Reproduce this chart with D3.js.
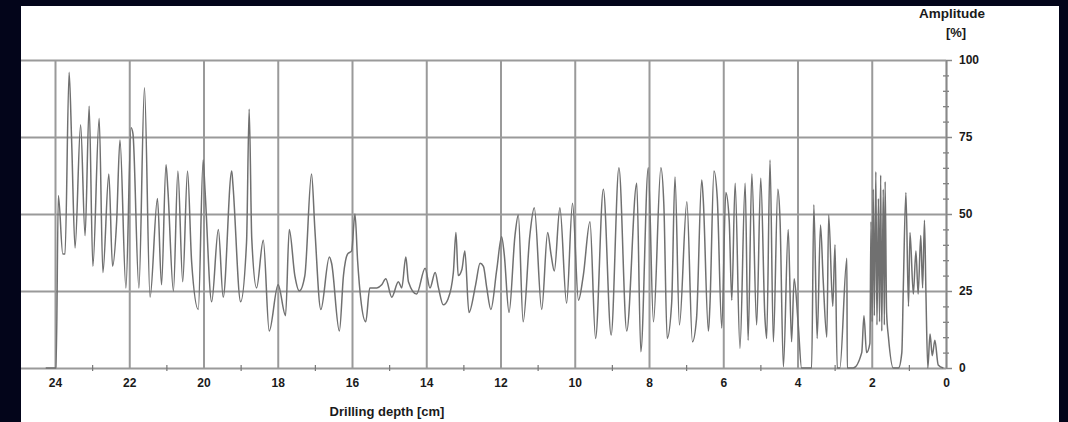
<!DOCTYPE html>
<html>
<head>
<meta charset="utf-8">
<script src="https://cdn.jsdelivr.net/npm/d3@7"></script>
<style>
  html, body { margin: 0; padding: 0; background: #03051a; }
  svg { display: block; }
  .axis text { font-family: "Liberation Sans", Arial, sans-serif; font-weight: bold; fill: #1a1a1a; }
  .grid line { stroke: #9a9a9a; stroke-width: 2; }
  .grid path { display: none; }
</style>
</head>
<body>
<svg id="chart"></svg>
<script>
let w = 1068;
let h = 422;
let chart1;
let xScale, yScale;

// drilling depth [cm]
let depth = [
  24.25, 23.97, 23.91, 23.79, 23.73, 23.62, 23.55, 23.46, 23.31, 23.19,
  23.08, 22.98, 22.81, 22.71, 22.55, 22.45, 22.34, 22.25, 22.09, 21.95,
  21.90, 21.74, 21.59, 21.44, 21.24, 21.13, 21.01, 20.96, 20.81, 20.69,
  20.56, 20.43, 20.32, 20.14, 20.01, 19.96, 19.78, 19.60, 19.47, 19.24,
  19.21, 19.00, 18.84, 18.77, 18.70, 18.57, 18.39, 18.23, 17.99, 17.79,
  17.69, 17.54, 17.42, 17.27, 17.09, 17.00, 16.84, 16.61, 16.55, 16.34,
  16.23, 16.12, 16.01, 15.92, 15.85, 15.76, 15.63, 15.52, 15.33, 15.20,
  15.09, 14.93, 14.75, 14.66, 14.55, 14.48, 14.26, 14.03, 13.90, 13.76,
  13.67, 13.54, 13.41, 13.27, 13.20, 13.14, 13.04, 12.96, 12.85, 12.67,
  12.55, 12.46, 12.37, 12.26, 12.10, 11.97, 11.90, 11.77, 11.61, 11.52,
  11.39, 11.21, 11.09, 10.89, 10.73, 10.64, 10.55, 10.40, 10.22, 10.06,
  9.90, 9.77, 9.59, 9.44, 9.23, 9.02, 8.81, 8.60, 8.33, 8.22,
  8.02, 7.88, 7.68, 7.60, 7.51, 7.39, 7.30, 7.18, 6.98, 6.83,
  6.72, 6.58, 6.54, 6.40, 6.36, 6.25, 6.16, 6.04, 5.93, 5.84,
  5.77, 5.68, 5.55, 5.41, 5.33, 5.23, 5.10, 4.99, 4.88, 4.83,
  4.74, 4.65, 4.53, 4.47, 4.38, 4.25, 4.16, 4.09, 3.98, 3.89,
  3.62, 3.56, 3.47, 3.38, 3.31, 3.21, 3.16, 3.05, 2.99, 2.93,
  2.86, 2.67, 2.66, 2.50, 2.27, 2.21, 2.14, 2.05, 2.02, 1.99,
  1.96, 1.93, 1.89, 1.86, 1.82, 1.79, 1.76, 1.73, 1.69, 1.66,
  1.64, 1.60, 1.55, 1.42, 1.28, 1.19, 1.15, 1.08,
  1.01, 0.97, 0.88, 0.81, 0.75, 0.68, 0.63, 0.58, 0.54, 0.49,
  0.43, 0.37, 0.30, 0.21, 0.07
];

// amplitude [%]
let amplitude = [
  0, 0, 56, 37, 37, 96, 73, 39, 79, 43,
  85, 33, 81, 31, 63, 33, 47.5, 74, 26, 78,
  76, 26, 91, 23, 55, 27, 66, 58, 25, 64,
  28, 64, 34.5, 19, 67.5, 58, 21.5, 45, 23, 64,
  60, 21.5, 41, 84, 42, 26, 41.5, 12, 27, 17,
  45, 30, 25, 30, 63, 45, 19, 36, 34, 12,
  30, 37, 38, 50, 35, 22, 15, 26, 26, 27,
  29, 23, 28, 26, 36, 28, 24, 32.4, 26, 31,
  26, 20.5, 22.5, 31, 44, 30, 32, 38, 18, 27,
  34, 33, 26, 19, 32, 42.6, 37, 18, 43, 49.7,
  15, 43, 52, 19, 44, 37, 31.5, 52, 21, 53.5,
  22, 30, 47.5, 9.6, 58, 10.7, 65, 12, 60, 5.3,
  65, 15, 65, 53, 9.6, 21, 62, 14, 54, 8.5,
  16, 61, 55, 12, 20, 64, 55, 13, 57, 48,
  22, 60, 6.4, 60, 9, 63, 14, 61.6, 17, 9.6,
  67.5, 8.5, 58, 48, 0.4, 45, 8.5, 29, 14, 0,
  0, 53, 9.6, 46.4, 29, 10, 49.7, 20, 40, 0,
  0, 35.6, 0, 0, 5, 17, 5, 8, 47.5, 15,
  58, 17, 63.7, 14, 55, 15, 62.6, 12, 58, 14,
  60.5, 18, 10, 0, 0, 5, 26, 57,
  20, 44, 24, 38, 24, 43, 26, 48, 24, 0,
  11, 4, 9, 1, 0
];

let xTicks = [24, 22, 20, 18, 16, 14, 12, 10, 8, 6, 4, 2, 0];
let xMinorTicks = [23, 21, 19, 17, 15, 13, 11, 9, 7, 5, 3, 1];
let yTicks = [0, 25, 50, 75, 100];
let yMinorTicks = [5, 10, 15, 20, 30, 35, 40, 45, 55, 60, 65, 70, 80, 85, 90, 95];

function initGraph() {
    let dataset = depth.map((d, i) => ({ depth: d, value: amplitude[i] }));

    chart1 = d3.select("#chart")
        .attr("width", w)
        .attr("height", h);

    // white panel
    chart1.append("rect")
        .attr("x", 21).attr("y", 6)
        .attr("width", 1038).attr("height", h)
        .attr("fill", "#ffffff");

    xScale = d3.scaleLinear().domain([24, 0]).range([55, 946]);
    yScale = d3.scaleLinear().domain([0, 100]).range([368, 60]);

    // grid
    chart1.append("g")
        .attr("class", "grid")
        .attr("transform", "translate(0, 368)")
        .call(d3.axisBottom(xScale).tickValues(xTicks).tickSize(-308).tickFormat(""));

    chart1.append("g")
        .attr("class", "grid")
        .attr("transform", "translate(946, 0)")
        .call(d3.axisRight(yScale).tickValues(yTicks).tickSize(-925).tickFormat(""));

    // trace
    chart1.append("path")
        .datum(dataset)
        .attr("fill", "none")
        .attr("stroke", "#707070")
        .attr("stroke-width", 1.5)
        .attr("stroke-linejoin", "round")
        .attr("d", d3.line()
            .curve(d3.curveMonotoneX)
            .x(d => xScale(d.depth))
            .y(d => yScale(d.value))
        );

    // minor ticks
    let xMinor = chart1.append("g")
        .attr("class", "minor")
        .attr("transform", "translate(0, 365)")
        .call(d3.axisBottom(xScale).tickValues(xMinorTicks).tickSize(6).tickFormat("").tickSizeOuter(0));
    xMinor.select(".domain").remove();
    xMinor.selectAll("line").attr("stroke", "#777").attr("stroke-width", 1.2);

    let yMinor = chart1.append("g")
        .attr("class", "minor")
        .attr("transform", "translate(943, 0)")
        .call(d3.axisRight(yScale).tickValues(yMinorTicks).tickSize(6).tickFormat("").tickSizeOuter(0));
    yMinor.select(".domain").remove();
    yMinor.selectAll("line").attr("stroke", "#777").attr("stroke-width", 1.2);

    // axes
    let xAxisGroup = chart1.append("g")
        .attr("class", "axis")
        .attr("transform", "translate(0, 368)")
        .call(d3.axisBottom(xScale).tickValues(xTicks).tickSize(0).tickPadding(10));
    xAxisGroup.select(".domain").remove();
    xAxisGroup.selectAll("text").attr("font-size", 12);

    let yAxisGroup = chart1.append("g")
        .attr("class", "axis")
        .attr("transform", "translate(946, 0)")
        .call(d3.axisRight(yScale).tickValues(yTicks).tickSize(6).tickSizeOuter(0).tickPadding(7));
    yAxisGroup.select(".domain").attr("stroke", "#888").attr("stroke-width", 1.5);
    yAxisGroup.selectAll("line").attr("stroke", "#888").attr("stroke-width", 1.5);
    yAxisGroup.selectAll("text").attr("font-size", 12);

    // titles
    let titles = chart1.append("g").attr("class", "axis");
    titles.append("text")
        .attr("x", 952).attr("y", 18)
        .attr("text-anchor", "middle")
        .attr("font-size", 13.5)
        .text("Amplitude");
    titles.append("text")
        .attr("x", 956).attr("y", 37)
        .attr("text-anchor", "middle")
        .attr("font-size", 13)
        .text("[%]");
    titles.append("text")
        .attr("x", 387).attr("y", 416)
        .attr("text-anchor", "middle")
        .attr("font-size", 13)
        .text("Drilling depth [cm]");
}
initGraph();
</script>
</body>
</html>
